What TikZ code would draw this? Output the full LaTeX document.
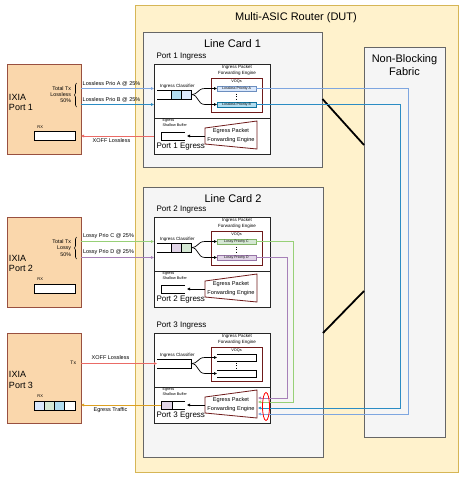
\documentclass[tikz,border=0pt]{standalone}
\usepackage{fontspec}
\setmainfont{Liberation Sans}
\usetikzlibrary{arrows.meta,decorations.pathreplacing,shapes.geometric}
\definecolor{dutfill}{HTML}{FFF2CC}
\definecolor{dutdraw}{HTML}{D6B656}
\definecolor{lcfill}{HTML}{F5F5F5}
\definecolor{lcdraw}{HTML}{666666}
\definecolor{ixfill}{HTML}{FAD7AC}
\definecolor{ixdraw}{HTML}{995040}
\definecolor{voqdraw}{HTML}{6F1A1A}
\definecolor{cA}{HTML}{7EA6E0}
\definecolor{cB}{HTML}{2B8CC4}
\definecolor{cC}{HTML}{97D077}
\definecolor{cD}{HTML}{A680B8}
\definecolor{cR}{HTML}{EA6B66}
\definecolor{cO}{HTML}{DDA020}
\definecolor{fA}{HTML}{DAE8FC}
\definecolor{fB}{HTML}{B1DDF0}
\definecolor{fC}{HTML}{D5E8D4}
\definecolor{fD}{HTML}{E1D5E7}
\definecolor{dA}{HTML}{6C8EBF}
\definecolor{dB}{HTML}{10739E}
\definecolor{dC}{HTML}{82B366}
\definecolor{dD}{HTML}{9673A6}
\tikzset{
  every node/.style={inner sep=0pt, outer sep=0pt},
  dut/.style={draw=dutdraw, fill=dutfill, line width=0.8pt},
  card/.style={draw=lcdraw, fill=lcfill, line width=0.8pt},
  ixia/.style={draw=ixdraw, fill=ixfill, line width=1pt},
  portbox/.style={draw=black!85, fill=white, line width=1pt},
  portdiv/.style={draw=black!85, line width=1pt},
  voqbox/.style={draw=voqdraw, fill=white, line width=0.9pt},
  qline/.style={draw=black, line width=0.7pt},
  cell/.style={draw=black, line width=0.6pt},
  rxbox/.style={draw=black, fill=white, line width=0.8pt},
  engine/.style={draw=voqdraw, fill=white, line width=0.8pt},
  tipS/.style={-{Triangle[length=3pt,width=2.6pt]}},
  blkarrow/.style={draw=black, line width=0.7pt, tipS},
  flow/.style={line width=0.8pt, tipS},
  fabline/.style={draw=black, line width=1.8pt},
  bracebar/.style={draw=black, line width=0.6pt, decorate, decoration={brace, amplitude=2pt}},
  entry/.style={minimum width=39pt, minimum height=5pt, line width=0.6pt, font=\fontsize{3.5}{4}\selectfont},
  ft11/.style={font=\fontsize{11}{13}\selectfont},
  ft9/.style={font=\fontsize{9}{11}\selectfont},
  ft8/.style={font=\fontsize{8}{10}\selectfont},
  ft56/.style={font=\fontsize{5.6}{7}\selectfont},
  ft55/.style={font=\fontsize{5.5}{7}\selectfont},
  ft53/.style={font=\fontsize{5.3}{6}\selectfont},
  ft5/.style={font=\fontsize{5}{6}\selectfont},
  ft45/.style={font=\fontsize{4.5}{5}\selectfont},
  ft4/.style={font=\fontsize{4}{5}\selectfont},
  ft38/.style={font=\fontsize{3.8}{4.5}\selectfont},
  ft36/.style={font=\fontsize{3.8}{4.5}\selectfont},
}
\newcommand{\portblk}[2]{%
\begin{scope}[shift={(0,#2)}]
\node[portbox, anchor=north west, minimum width=116pt, minimum height=90pt] (p#1) at (154,0) {};
\draw[portdiv] (154,54) -- (270,54);
\node[ft8, anchor=west] at (156.5,-7.5) {Port #1 Ingress};
\node[ft45] at (237,3.5) {Ingress Packet};
\node[ft45] at (237,9.5) {Forwarding Engine};
\node[voqbox, anchor=north west, minimum width=51pt, minimum height=34pt] (p#1voq) at (211,14) {};
\node[ft36] at (236.5,18) {VOQs};
\draw[dotted, line width=0.6pt] (236.5,29.5) -- (236.5,36);
\node[ft45, anchor=west] at (160,22) {Ingress Classifier};
\draw[qline] (157,26) -- (191,26) -- (191,35) -- (157,35);
\coordinate (p#1cls) at (157,30.5);
\coordinate (p#1clsR) at (191,30.5);
\coordinate (p#1qa) at (217,24.5);
\coordinate (p#1qb) at (217,40.5);
\draw[blkarrow] (p#1clsR) .. controls (199,30.5) and (197,24.5) .. (205,24.5) -- (p#1qa);
\draw[blkarrow] (p#1clsR) .. controls (199,30.5) and (197,40.5) .. (205,40.5) -- (p#1qb);
\node[ft38, anchor=west] at (162.5,57) {Egress};
\node[ft38, anchor=west] at (162.5,61.5) {Shallow Buffer};
\draw[qline] (185,68) -- (161,68) -- (161,76) -- (185,76);
\coordinate (p#1buf) at (161,72);
\coordinate (p#1bufR) at (187,72);
\draw[engine] (205,64) -- (257,57) -- (257,85) -- (205,80) -- cycle;
\coordinate (p#1engL) at (205,72);
\node[ft56] at (231,67.5) {Egress Packet};
\node[ft56] at (231,76) {Forwarding Engine};
\draw[blkarrow] (p#1engL) -- (p#1bufR);
\node[ft8, anchor=west] at (156.5,83) {Port #1 Egress};
\end{scope}}
\begin{document}
\begin{tikzpicture}[x=1pt,y=-1pt]
\fill[white] (0,0) rectangle (464,477);
\useasboundingbox (0,0) rectangle (464,477);
% router
\node[dut, anchor=north west, minimum width=323pt, minimum height=467pt] (dut) at (135,5) {};
\node[ft11] at (296,17.5) {Multi-ASIC Router (DUT)};
\node[card, anchor=north west, minimum width=179.5pt, minimum height=135pt] (lc1) at (143,32) {};
\node[ft11] at (232.5,44) {Line Card 1};
\node[card, anchor=north west, minimum width=180pt, minimum height=270pt] (lc2) at (143,187) {};
\node[ft11] at (233,199) {Line Card 2};
\node[card, anchor=north west, minimum width=81pt, minimum height=390pt] (fab) at (364,47) {};
\node[ft11] at (404.5,60) {Non-Blocking};
\node[ft11] at (404.5,71.5) {Fabric};
\coordinate (k1a) at (322.5,99); \coordinate (k1b) at (364,145);
\coordinate (k2a) at (323,333); \coordinate (k2b) at (364,291);
\draw[fabline] (k1a) -- (k1b);
\draw[fabline] (k2a) -- (k2b);
% ports
\portblk{1}{64}
\portblk{2}{217}
\portblk{3}{333}
% port 1 specifics
\node[cell, fill=fB, anchor=north west, minimum width=10pt, minimum height=9pt] (p1c1) at (171,90) {};
\node[cell, fill=fA, anchor=north west, minimum width=10pt, minimum height=9pt] (p1c2) at (181,90) {};
\node[entry, fill=fA, draw=dA, anchor=west] (p1qA) at (p1qa) {Lossless Priority A};
\node[entry, fill=fB, draw=dB, anchor=west] (p1qB) at (p1qb) {Lossless Priority B};
% port 2 specifics
\node[cell, fill=fD, anchor=north west, minimum width=10pt, minimum height=9pt] (p2c1) at (171,243) {};
\node[cell, fill=fC, anchor=north west, minimum width=10pt, minimum height=9pt] (p2c2) at (181,243) {};
\node[entry, fill=fC, draw=dC, anchor=west] (p2qC) at (p2qa) {Lossy Priority C};
\node[entry, fill=fD, draw=dD, anchor=west] (p2qD) at (p2qb) {Lossy Priority D};
% port 3 specifics
\draw[qline] (217,354) -- (256,354) -- (256,361) -- (217,361);
\draw[qline] (217,370) -- (256,370) -- (256,377) -- (217,377);
\node[cell, fill=fD, anchor=north west, minimum width=11pt, minimum height=8pt] (p3c1) at (161,401) {};
% IXIA 1
\node[ixia, anchor=north west, minimum width=74pt, minimum height=90pt] (ix1) at (7,64) {};
\node[ft9, anchor=west] at (9,97) {IXIA};
\node[ft9, anchor=west] at (9,107) {Port 1};
\node[ft53, anchor=east] at (71,89) {Total Tx};
\node[ft53, anchor=east] at (71,95) {Lossless};
\node[ft53, anchor=east] at (71,100.5) {50\%};
\draw[bracebar] (76.5,107) -- (76.5,83);
\node[ft4, anchor=west] at (37.5,127) {RX};
\node[rxbox, anchor=north west, minimum width=41pt, minimum height=9pt] (rx1) at (34,131) {};
% IXIA 2
\node[ixia, anchor=north west, minimum width=74pt, minimum height=90pt] (ix2) at (7,217) {};
\node[ft9, anchor=west] at (9,258) {IXIA};
\node[ft9, anchor=west] at (9,268) {Port 2};
\node[ft53, anchor=east] at (71,242) {Total Tx};
\node[ft53, anchor=east] at (71,248) {Lossy};
\node[ft53, anchor=east] at (71,254.5) {50\%};
\draw[bracebar] (76.5,259) -- (76.5,237);
\node[ft4, anchor=west] at (37.5,279) {RX};
\node[rxbox, anchor=north west, minimum width=41pt, minimum height=9pt] (rx2) at (34,284) {};
% IXIA 3
\node[ixia, anchor=north west, minimum width=74pt, minimum height=90pt] (ix3) at (7,333) {};
\node[ft9, anchor=west] at (9,374) {IXIA};
\node[ft9, anchor=west] at (9,385) {Port 3};
\node[ft5, anchor=east] at (76,363) {Tx};
\node[ft4, anchor=west] at (37.5,396) {RX};
\node[rxbox, anchor=north west, minimum width=41pt, minimum height=9pt] (rx3) at (34,401) {};
\node[cell, fill=fA, anchor=north west, minimum width=10.25pt, minimum height=9pt] (r3a) at (34,401) {};
\node[cell, fill=fC, anchor=north west, minimum width=10.25pt, minimum height=9pt] (r3b) at (44.25,401) {};
\node[cell, fill=fB, anchor=north west, minimum width=10.25pt, minimum height=9pt] (r3c) at (54.5,401) {};
% flows from IXIA
\draw[flow, draw=cA] (ix1.east |- p1qa) -- (p1.west |- p1qa);
\node[ft55] at (111.5,84) {Lossless Prio A @ 25\%};
\draw[flow, draw=cB] (ix1.east |- p1qb) -- (p1.west |- p1qb);
\node[ft55] at (111.5,99.5) {Lossless Prio B @ 25\%};
\draw[flow, draw=cR] (p1.west |- p1buf) -- (ix1.east |- p1buf);
\node[ft55] at (111.5,141) {XOFF Lossless};
\draw[flow, draw=cC] (ix2.east |- p2qa) -- (p2.west |- p2qa);
\node[ft55] at (108.5,236.5) {Lossy Prio C @ 25\%};
\draw[flow, draw=cD] (ix2.east |- p2qb) -- (p2.west |- p2qb);
\node[ft55] at (108.5,252) {Lossy Prio D @ 25\%};
\draw[flow, draw=cR] (ix3.east |- p3cls) -- (p3cls);
\node[ft55] at (110.5,358) {XOFF Lossless};
\draw[flow, draw=cO] (p3buf) -- (ix3.east |- p3buf);
\node[ft55] at (110.5,410.5) {Egress Traffic};
% flows through the fabric
\coordinate (colA) at (408,0); \coordinate (colB) at (400,0);
\coordinate (colC) at (293,0); \coordinate (colD) at (287,0);
\coordinate (p3inA) at (258,414); \coordinate (p3inB) at (258,408);
\coordinate (p3inC) at (258,402); \coordinate (p3inD) at (258,398);
\draw[flow, draw=cA] (p1qA.east) -- (colA |- p1qA.east) -- (colA |- p3inA) -- (p3inA);
\draw[flow, draw=cB] (p1qB.east) -- (colB |- p1qB.east) -- (colB |- p3inB) -- (p3inB);
\draw[flow, draw=cC] (p2qC.east) -- (colC |- p2qC.east) -- (colC |- p3inC) -- (p3inC);
\draw[flow, draw=cD] (p2qD.east) -- (colD |- p2qD.east) -- (colD |- p3inD) -- (p3inD);
\node[draw=red, ellipse, minimum width=7pt, minimum height=28pt, line width=0.8pt] (ring) at (266,406.5) {};
\end{tikzpicture}
\end{document}
